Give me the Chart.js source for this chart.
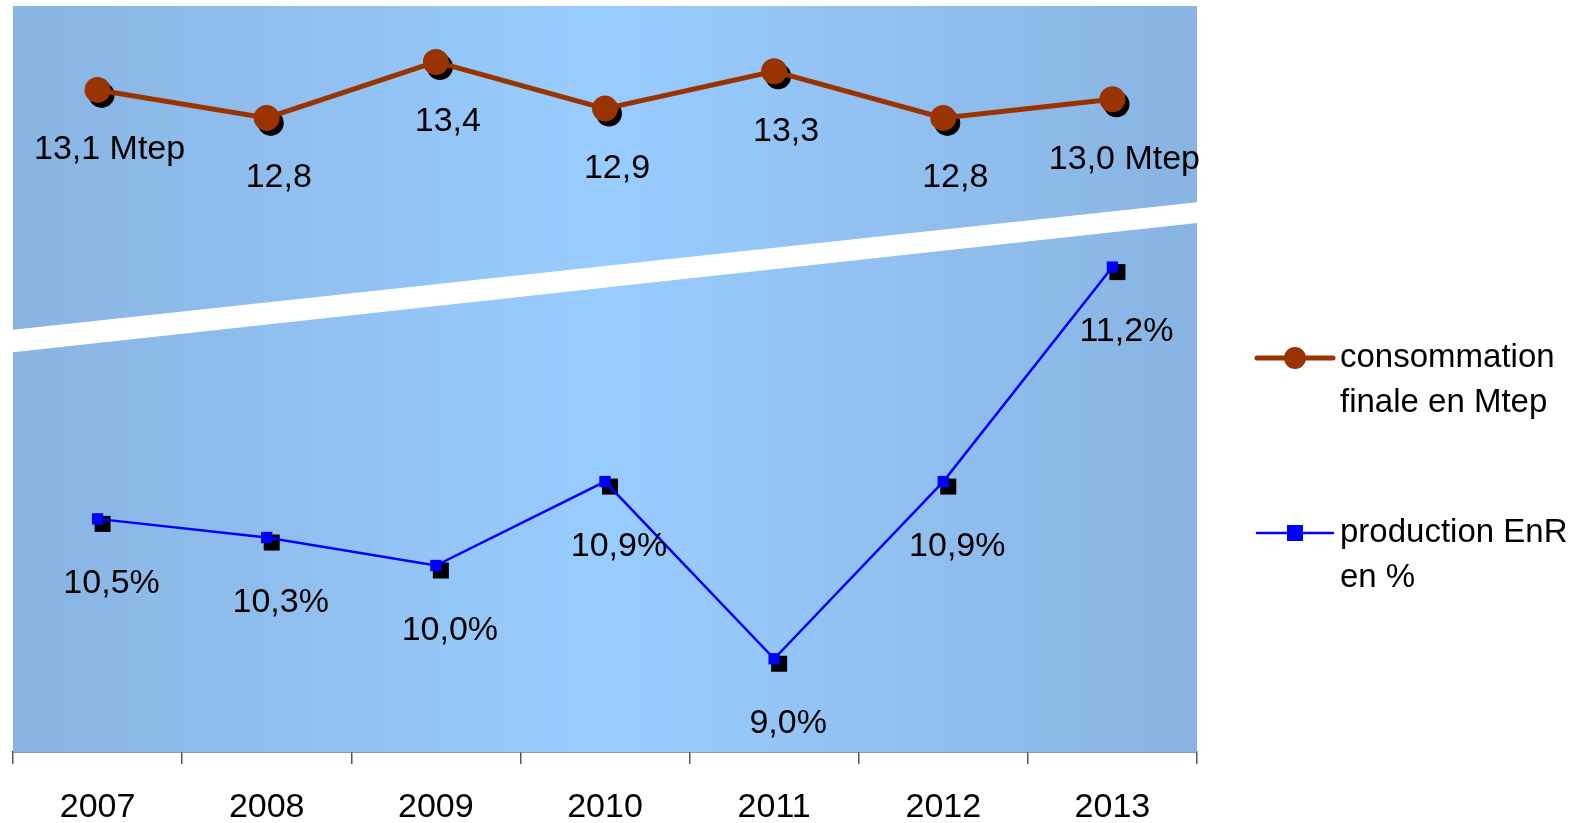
<!DOCTYPE html>
<html>
<head>
<meta charset="utf-8">
<script src="https://cdn.jsdelivr.net/npm/chart.js@4.4.1/dist/chart.umd.min.js"></script>
<style>
html,body{margin:0;padding:0;background:#fff;}
#wrap{width:1581px;height:823px;position:relative;}
</style>
</head>
<body>
<div id="wrap"><canvas id="c" width="1581" height="823"></canvas></div>
<script>
const years = ['2007','2008','2009','2010','2011','2012','2013'];
const consoValues = [13.1, 12.8, 13.4, 12.9, 13.3, 12.8, 13.0];
const consoLabels = ['13,1 Mtep','12,8','13,4','12,9','13,3','12,8','13,0 Mtep'];
const enrValues = [10.5, 10.3, 10.0, 10.9, 9.0, 10.9, 13.2];
const enrLabels = ['10,5%','10,3%','10,0%','10,9%','9,0%','10,9%','11,2%'];
const legendLines = [['consommation','finale en Mtep'],['production EnR','en %']];

const FONT = '"Liberation Sans", Arial, sans-serif';

const bgPlugin = {
  id: 'bg',
  beforeDatasetsDraw(chart) {
    const {ctx, chartArea: a} = chart;
    ctx.save();
    const g = ctx.createLinearGradient(a.left, 0, a.right, 0);
    g.addColorStop(0, '#88b4e2');
    g.addColorStop(0.5, '#99ccff');
    g.addColorStop(1, '#88b4e2');
    ctx.fillStyle = g;
    ctx.fillRect(a.left, a.top, a.right - a.left, a.bottom - a.top);
    // white diagonal break band
    const h = a.bottom - a.top;
    ctx.fillStyle = '#ffffff';
    ctx.beginPath();
    ctx.moveTo(a.left, a.top + h * 0.434);
    ctx.lineTo(a.right, a.top + h * 0.263);
    ctx.lineTo(a.right, a.top + h * 0.291);
    ctx.lineTo(a.left, a.top + h * 0.464);
    ctx.closePath();
    ctx.fill();
    // marker shadows
    chart.data.datasets.forEach((ds, i) => {
      const meta = chart.getDatasetMeta(i);
      ctx.fillStyle = '#000';
      meta.data.forEach(p => {
        if (ds.pointStyle === 'rect') {
          const s = ds.pointRadius;
          ctx.fillRect(p.x + 5 - s, p.y + 5 - s, 2 * s, 2 * s);
        } else {
          ctx.beginPath();
          ctx.arc(p.x + 4, p.y + 5, ds.pointRadius, 0, Math.PI * 2);
          ctx.fill();
        }
      });
    });
    ctx.restore();
  },
  afterDatasetsDraw(chart) {
    const {ctx} = chart;
    ctx.save();
    ctx.font = '34px ' + FONT;
    ctx.fillStyle = '#000';
    ctx.textAlign = 'center';
    ctx.textBaseline = 'middle';
    const sets = [[consoLabels, 12, 60], [enrLabels, 14, 65]];
    chart.data.datasets.forEach((ds, i) => {
      const meta = chart.getDatasetMeta(i);
      const [labs, dx, dy] = sets[i];
      meta.data.forEach((p, j) => {
        ctx.fillText(labs[j], p.x + dx, p.y + dy);
      });
    });
    ctx.restore();
  },
  afterDraw(chart) {
    const {ctx, chartArea: a} = chart;
    ctx.save();
    const x0 = a.right + 60, x1 = a.right + 136, xm = a.right + 98;
    const ys = [358, 533];
    ctx.font = '33px ' + FONT;
    ctx.fillStyle = '#000';
    ctx.textBaseline = 'middle';
    ctx.textAlign = 'left';
    chart.data.datasets.forEach((ds, i) => {
      const y = ys[i];
      ctx.strokeStyle = ds.borderColor;
      ctx.lineWidth = ds.borderWidth;
      ctx.lineCap = 'round';
      ctx.beginPath();
      ctx.moveTo(x0, y);
      ctx.lineTo(x1, y);
      ctx.stroke();
      ctx.fillStyle = ds.pointBackgroundColor;
      if (ds.pointStyle === 'rect') {
        ctx.fillRect(xm - 8, y - 8, 16, 16);
      } else {
        ctx.beginPath();
        ctx.arc(xm, y, 11, 0, Math.PI * 2);
        ctx.fill();
      }
      ctx.fillStyle = '#000';
      legendLines[i].forEach((t, k) => ctx.fillText(t, a.right + 143, y + k * 45));
    });
    ctx.restore();
  }
};

new Chart(document.getElementById('c'), {
  type: 'line',
  data: {
    labels: years,
    datasets: [
      {
        label: legendLines[0].join(' '),
        data: consoValues,
        yAxisID: 'y1',
        borderColor: '#993300',
        borderWidth: 5,
        pointStyle: 'circle',
        pointRadius: 13,
        pointHoverRadius: 13,
        pointBackgroundColor: '#993300',
        pointBorderWidth: 0,
        tension: 0
      },
      {
        label: legendLines[1].join(' '),
        data: enrValues,
        yAxisID: 'y2',
        borderColor: '#0000ff',
        borderWidth: 2.5,
        pointStyle: 'rect',
        pointRadius: 8,
        pointHoverRadius: 8,
        pointBackgroundColor: '#0000ff',
        pointBorderWidth: 0,
        tension: 0
      }
    ]
  },
  options: {
    responsive: false,
    animation: false,
    events: [],
    layout: { autoPadding: false, padding: { left: 13, top: 6, right: 384, bottom: 0 } },
    plugins: { legend: { display: false }, tooltip: { enabled: false } },
    scales: {
      x: {
        offset: true,
        grid: { offset: true, drawOnChartArea: false, tickLength: 12, color: '#555', lineWidth: 1.5 },
        border: { display: true, color: '#333', width: 1.5 },
        ticks: { color: '#000', font: { size: 34, family: FONT }, padding: 23, maxRotation: 0 },
        afterFit(s) { s.height = 71; }
      },
      y1: { type: 'linear', position: 'left', min: 6, max: 14, display: false },
      y2: { type: 'linear', position: 'right', min: 8, max: 16, display: false }
    }
  },
  plugins: [bgPlugin]
});
</script>
</body>
</html>
